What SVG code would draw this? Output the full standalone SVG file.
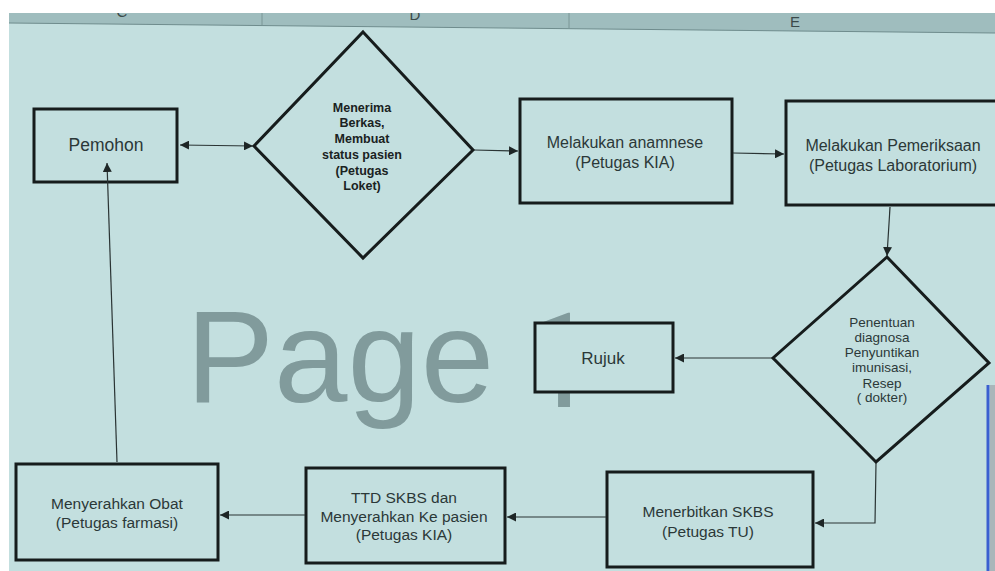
<svg xmlns="http://www.w3.org/2000/svg" width="995" height="571" viewBox="0 0 995 571">
<defs>
<marker id="ah" viewBox="0 0 10 10" refX="10" refY="5" markerWidth="9" markerHeight="9" markerUnits="userSpaceOnUse" orient="auto-start-reverse">
<path d="M0,0 L10,5 L0,10 z" fill="#1e2626"/>
</marker>
<style>
.box{fill:#c3dfdf;stroke:#161c1c;stroke-width:3}
.t{font-family:"Liberation Sans",Arial,sans-serif;fill:#2b3838;text-anchor:middle}
.b{font-family:"Liberation Sans",Arial,sans-serif;fill:#1a2222;text-anchor:middle;font-weight:bold;font-size:12.5px}
.c{fill:none;stroke:#2a3434;stroke-width:1.2}
.h{font-family:"Liberation Sans",Arial,sans-serif;fill:#3a4a4a;font-size:15px;text-anchor:middle}
.wm{font-family:"Liberation Sans",Arial,sans-serif;font-size:132px;fill:#819b9c}
</style>
</defs>
<rect width="995" height="571" fill="#ffffff"/>
<rect x="9" y="13" width="986" height="558" fill="#c3dfdf"/>
<polygon points="9,13 995,13 995,33 9,23" fill="#9fbdbe"/>
<line x1="9" y1="23" x2="995" y2="33" stroke="#6f8c8d" stroke-width="1"/>
<line x1="262" y1="13" x2="262" y2="25" stroke="#7a9696" stroke-width="1"/>
<line x1="569" y1="13" x2="569" y2="28" stroke="#7a9696" stroke-width="1"/>
<text class="h" x="122" y="17">C</text>
<text class="h" x="415" y="20">D</text>
<text class="h" x="795" y="27">E</text>
<rect x="0" y="0" width="995" height="13" fill="#ffffff"/>
<rect x="0" y="0" width="9" height="571" fill="#ffffff"/>
<text class="wm" x="186" y="402">Page</text>
<text class="wm" x="523" y="407" style="font-family:Roboto,sans-serif">1</text>
<line x1="988" y1="385" x2="988" y2="571" stroke="#3a5fd0" stroke-width="3"/>
<rect x="990" y="385" width="5" height="186" fill="#a9b6ba"/>

<g id="pemohon">
<rect class="box" x="34" y="109" width="143" height="73"/>
<text class="t" x="106" y="151" font-size="17.5">Pemohon</text>
</g>

<g id="loket">
<polygon class="box" points="363,32 473,150 363,258 254,146"/>
<text class="b" x="362" y="112">Menerima</text>
<text class="b" x="362" y="127">Berkas,</text>
<text class="b" x="362" y="143">Membuat</text>
<text class="b" x="362" y="159">status pasien</text>
<text class="b" x="362" y="175">(Petugas</text>
<text class="b" x="362" y="190">Loket)</text>
</g>

<g id="anamnese">
<rect class="box" x="520" y="99" width="212" height="104"/>
<text class="t" x="625" y="148" font-size="16">Melakukan anamnese</text>
<text class="t" x="625" y="168" font-size="16">(Petugas KIA)</text>
</g>

<g id="pemeriksaan">
<rect class="box" x="786" y="101" width="215" height="104"/>
<text class="t" x="893" y="151" font-size="16">Melakukan Pemeriksaan</text>
<text class="t" x="893" y="171" font-size="16">(Petugas Laboratorium)</text>
</g>

<g id="dokter">
<polygon class="box" points="887,257 989,363 876,462 773,358"/>
<text class="t" x="882" y="327" font-size="13.5">Penentuan</text>
<text class="t" x="882" y="342" font-size="13.5">diagnosa</text>
<text class="t" x="882" y="357" font-size="13.5">Penyuntikan</text>
<text class="t" x="882" y="372" font-size="13.5">imunisasi,</text>
<text class="t" x="882" y="388" font-size="13.5">Resep</text>
<text class="t" x="882" y="402" font-size="13.5">( dokter)</text>
</g>

<g id="rujuk">
<rect class="box" x="535" y="323" width="138" height="69"/>
<text class="t" x="603" y="364" font-size="17">Rujuk</text>
</g>

<g id="skbs">
<rect class="box" x="607" y="472" width="206" height="95"/>
<text class="t" x="708" y="517" font-size="15.5">Menerbitkan SKBS</text>
<text class="t" x="708" y="537" font-size="15.5">(Petugas TU)</text>
</g>

<g id="ttd">
<rect class="box" x="306" y="468" width="199" height="95"/>
<text class="t" x="404" y="503" font-size="15.5">TTD SKBS dan</text>
<text class="t" x="404" y="522" font-size="15.5">Menyerahkan Ke pasien</text>
<text class="t" x="404" y="540" font-size="15.5">(Petugas KIA)</text>
</g>

<g id="obat">
<rect class="box" x="16" y="464" width="202" height="96"/>
<text class="t" x="117" y="509" font-size="15.5">Menyerahkan Obat</text>
<text class="t" x="117" y="528" font-size="15.5">(Petugas farmasi)</text>
</g>

<g id="connectors">
<line class="c" x1="180" y1="145" x2="253" y2="146" marker-start="url(#ah)" marker-end="url(#ah)"/>
<line class="c" x1="474" y1="150" x2="518" y2="151" marker-end="url(#ah)"/>
<line class="c" x1="733" y1="153" x2="784" y2="154" marker-end="url(#ah)"/>
<line class="c" x1="890" y1="207" x2="887" y2="256" marker-end="url(#ah)"/>
<line class="c" x1="772" y1="358" x2="675" y2="358" marker-end="url(#ah)"/>
<polyline class="c" points="876,463 875,523 815,523" marker-end="url(#ah)"/>
<line class="c" x1="606" y1="517" x2="507" y2="517" marker-end="url(#ah)"/>
<line class="c" x1="305" y1="515" x2="220" y2="515" marker-end="url(#ah)"/>
<line class="c" x1="117" y1="462" x2="107" y2="163" marker-end="url(#ah)"/>
</g>
</svg>
